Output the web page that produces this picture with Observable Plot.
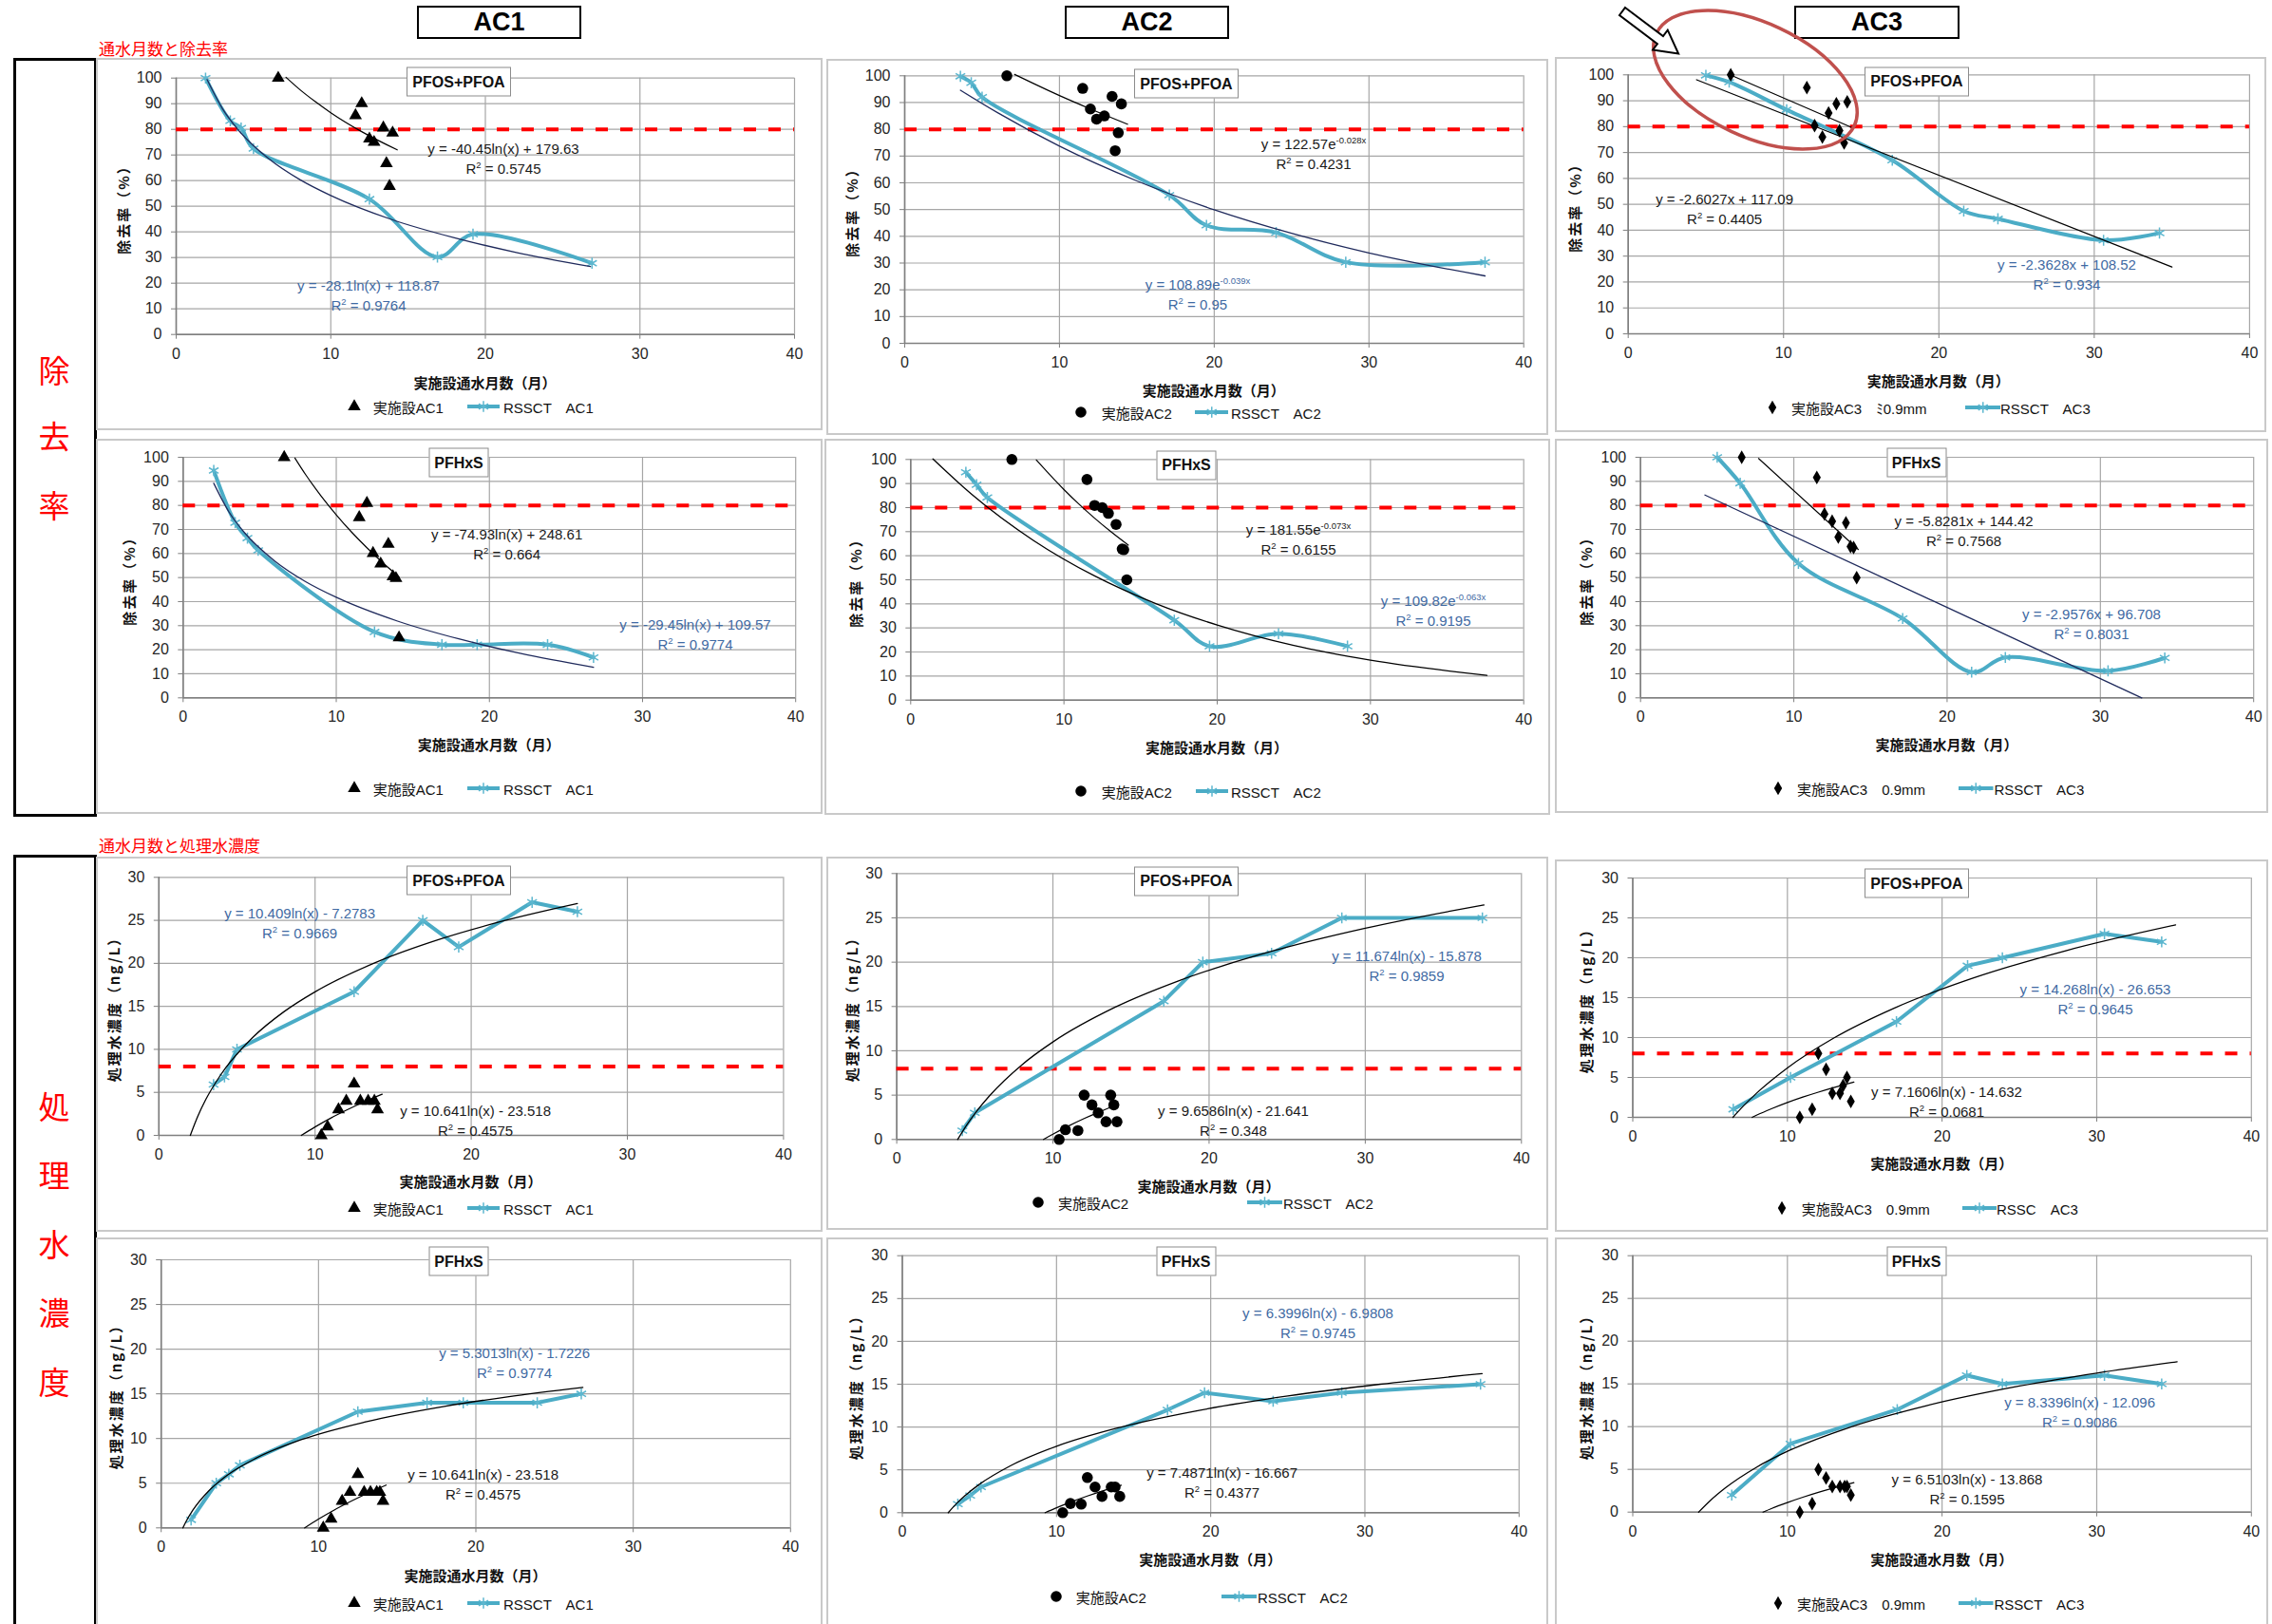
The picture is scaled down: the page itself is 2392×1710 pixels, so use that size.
<!DOCTYPE html>
<html lang="ja">
<head>
<meta charset="utf-8">
<title>通水月数と除去率・処理水濃度</title>
<script src="https://cdn.jsdelivr.net/npm/d3@7"></script>
<script src="https://cdn.jsdelivr.net/npm/@observablehq/plot@0.6"></script>
<style>
  html, body { margin:0; padding:0; background:#fff; }
  #page { position:relative; width:2392px; height:1710px; overflow:hidden; background:#fff;
          font-family:"Liberation Sans", Arial, "Noto Sans CJK JP", sans-serif; color:#222; }
  .panel { position:absolute; box-sizing:border-box; border:2px solid #c9c9c9; }
  .plot { position:absolute; }
  .plot svg { overflow:visible; display:block; }
  .title { position:absolute; box-sizing:border-box; border:1.5px solid #8c8c8c; background:#fff;
           font-weight:bold; font-size:16px; display:flex; align-items:center; justify-content:center;
           transform:translate(-50%,-50%); height:31px; color:#111; }
  .eq { position:absolute; transform:translateX(-50%); text-align:center; font-size:15px; line-height:21px; white-space:nowrap; }
  .eq sup { font-size:9.5px; vertical-align:6px; line-height:0; }
  .xlab { position:absolute; transform:translate(-50%,-50%); font-family:"Noto Sans CJK JP", sans-serif;
          font-weight:bold; font-size:15px; white-space:nowrap; color:#111; }
  .ylab { position:absolute; transform:translate(-50%,-50%) rotate(-90deg); font-family:"Noto Sans CJK JP", sans-serif;
          font-weight:bold; font-size:15px; white-space:nowrap; letter-spacing:2px; color:#111; }
  .legtxt { position:absolute; transform:translateY(-50%); font-size:15px; white-space:nowrap; color:#111;
            font-family:"Liberation Sans", Arial, "Noto Sans CJK JP", sans-serif; }
  .hdr { position:absolute; box-sizing:border-box; border:2.5px solid #000; font-family:"Liberation Sans", Arial, sans-serif;
         font-weight:bold; font-size:27px; display:flex; align-items:center; justify-content:center; color:#000; }
  .sect { position:absolute; color:#ff0000; font-family:"Noto Sans CJK JP", sans-serif; font-size:17px; white-space:nowrap; transform:translateY(-50%); }
  .side { position:absolute; box-sizing:border-box; border:3px solid #000; }
  .sidechar { position:absolute; color:#ff0000; font-family:"Noto Sans CJK JP", sans-serif; font-size:33px; transform:translate(-50%,-50%); }
</style>
</head>
<body>
<div id="page"></div>
<script>
// ---------- axis ticks & targets ----------
const xTicks = [0, 10, 20, 30, 40];
const removalTicks = [0, 10, 20, 30, 40, 50, 60, 70, 80, 90, 100];
const concTicks = [0, 5, 10, 15, 20, 25, 30];
const removalTarget = [80];
const concTarget = [8];

// ---------- 除去率 PFOS+PFOA ----------
const ac1PfosRemovalRssct = [[1.9,100],[3.5,83.3],[4.2,80.5],[5.0,72.5],[12.5,52.8],[16.9,30.2],[19.2,39.1],[26.9,27.8]];
const ac1PfosRemovalPlant = [[6.6,100],[11.6,85.4],[12.0,90.1],[12.5,76.3],[12.8,75.0],[13.4,80.6],[13.6,66.7],[13.8,57.8],[14.0,78.6]];
const ac1PfosRemovalRssctTrend = [[2,99.4],[3,88.0],[4,79.9],[6,68.5],[8,60.4],[10,54.2],[14,44.7],[18,37.7],[22,32.0],[26.8,26.5]];
const ac1PfosRemovalPlantTrend = [[7.1,100.3],[8,95.5],[9,90.8],[10,86.5],[12,79.1],[14.3,72.0]];

const ac2PfosRemovalRssct = [[3.6,99.8],[4.3,97.4],[5.0,92.0],[17.1,55.4],[19.5,44.1],[24.0,41.4],[28.5,30.3],[37.5,30.3]];
const ac2PfosRemovalPlant = [[6.6,100],[11.5,95.3],[12.0,87.6],[12.4,83.8],[12.9,85.0],[13.4,92.3],[13.6,72.0],[13.8,78.7],[14.0,89.5]];
const ac2PfosRemovalRssctTrend = [[3.6,94.6],[6,86.2],[10,73.7],[15,60.7],[20,49.9],[25,41.1],[30,33.8],[37.5,25.2]];
const ac2PfosRemovalPlantTrend = [[7.1,100.5],[10,92.6],[12,87.6],[14.4,81.9]];

const ac3PfosRemovalRssct = [[5.0,99.8],[6.5,97.2],[10.2,86.5],[17.0,67.0],[21.6,47.4],[23.8,44.4],[30.6,36.1],[34.2,38.9]];
const ac3PfosRemovalPlant = [[6.6,100],[11.5,95.1],[12.0,80.4],[12.5,76.0],[12.9,85.3],[13.4,88.8],[13.6,78.5],[13.9,73.7],[14.1,89.6]];
const ac3PfosRemovalRssctTrend = [[4.4,98.1],[35,25.8]];
const ac3PfosRemovalPlantTrend = [[6.8,99.4],[14.5,79.4]];

// ---------- 除去率 PFHxS ----------
const ac1PfhxsRemovalRssct = [[2.0,94.5],[3.4,72.8],[4.2,66.4],[4.9,61.3],[12.5,27.4],[16.9,22.1],[19.2,22.1],[23.8,22.1],[26.8,16.8]];
const ac1PfhxsRemovalPlant = [[6.6,100],[11.5,75.0],[12.0,80.9],[12.4,60.1],[12.9,55.7],[13.4,63.9],[13.7,50.4],[13.9,49.7],[14.1,25.0]];
const ac1PfhxsRemovalRssctTrend = [[2,89.2],[3,77.2],[4,68.7],[6,56.8],[8,48.3],[10,41.8],[14,31.9],[18,24.5],[22,18.5],[26.8,12.7]];
const ac1PfhxsRemovalPlantTrend = [[7.3,99.7],[8,92.8],[9,84.0],[10,76.1],[11,68.9],[12,62.4],[13,56.4],[14.1,50.3]];

const ac2PfhxsRemovalRssct = [[3.6,94.7],[4.3,89.5],[5.0,84.2],[17.2,33.2],[19.5,22.4],[24.0,27.6],[28.5,22.4]];
const ac2PfhxsRemovalPlant = [[6.6,100],[11.5,91.7],[12.0,80.9],[12.5,80.0],[12.9,77.6],[13.4,73.0],[13.8,62.8],[13.9,62.5],[14.1,50.0]];
const ac2PfhxsRemovalRssctTrend = [[1.45,100.2],[4,85.4],[8,66.4],[12,51.6],[16,40.1],[20,31.2],[25,22.7],[30,16.6],[37.6,10.3]];
const ac2PfhxsRemovalPlantTrend = [[8.2,99.8],[10,87.5],[11,81.3],[12,75.6],[13,70.3],[14.2,64.4]];

const ac3PfhxsRemovalRssct = [[5.0,100],[6.5,89.2],[10.3,55.9],[17.1,33.0],[21.6,10.7],[23.8,16.8],[30.5,11.2],[34.2,16.6]];
const ac3PfhxsRemovalPlant = [[6.6,100],[11.5,91.6],[12.0,76.4],[12.5,73.4],[12.9,66.8],[13.4,72.8],[13.7,62.9],[13.9,62.5],[14.1,50.0]];
const ac3PfhxsRemovalRssctTrend = [[4.2,84.3],[32.7,0]];
const ac3PfhxsRemovalPlantTrend = [[7.7,99.5],[14.2,61.7]];

// ---------- 処理水濃度 PFOS+PFOA ----------
const ac1PfosConcRssct = [[3.5,5.9],[4.2,6.8],[5.0,10.0],[12.5,16.7],[16.9,25.0],[19.2,21.9],[23.9,27.1],[26.8,26.0]];
const ac1PfosConcPlant = [[10.4,0],[10.8,1],[11.5,3],[12.0,4],[12.5,6],[12.9,4],[13.4,4],[13.8,4],[14.0,3]];
const ac1PfosConcRssctTrend = [[2.01,0],[2.5,2.26],[3,4.16],[4,7.15],[6,11.37],[8,14.37],[10,16.69],[14,20.19],[18,22.81],[22,24.9],[26.8,26.95]];
const ac1PfosConcPlantTrend = [[9.12,0],[10,0.98],[11,2.0],[12,2.92],[13,3.78],[14.3,4.79]];

const ac2PfosConcRssct = [[4.2,1.0],[5.0,3.0],[17.1,15.6],[19.6,20.0],[24.0,21.0],[28.5,25.0],[37.5,25.0]];
const ac2PfosConcPlant = [[10.4,0],[10.8,1.1],[11.6,1.0],[12.0,5.0],[12.5,3.9],[12.9,3.0],[13.4,2.0],[13.7,5.0],[13.9,3.9],[14.1,2.0]];
const ac2PfosConcRssctTrend = [[3.9,0],[4.5,1.68],[5,2.91],[6,5.04],[8,8.4],[10,11.0],[14,14.93],[18,17.86],[24,21.22],[30,23.83],[37.6,26.46]];
const ac2PfosConcPlantTrend = [[9.4,0],[10,0.6],[11,1.52],[12,2.36],[13,3.13],[14.1,3.92]];

const ac3PfosConcRssct = [[6.5,1],[10.2,5],[17.05,12],[21.65,19],[23.9,20],[30.5,23],[34.2,22]];
const ac3PfosConcPlant = [[10.8,0],[11.6,1],[12.0,8],[12.5,6],[12.9,3],[13.4,3],[13.6,4],[13.85,5],[14.1,2]];
const ac3PfosConcRssctTrend = [[6.48,0],[7,1.11],[8,3.02],[10,6.2],[13,9.94],[17,13.77],[22,17.45],[28,20.89],[35.1,24.12]];
const ac3PfosConcPlantTrend = [[7.72,0],[8,0.26],[9,1.1],[10,1.86],[11,2.54],[12,3.16],[14.3,4.42]];

// ---------- 処理水濃度 PFHxS ----------
const ac1PfhxsConcRssct = [[1.9,0.9],[3.5,5],[4.3,6],[5.0,7],[12.5,13],[16.9,14],[19.2,14],[23.9,14],[26.7,15]];
const ac1PfhxsConcPlant = [[10.3,0],[10.8,1],[11.5,3],[12.0,4],[12.5,6],[12.9,4],[13.3,4],[13.7,4],[13.9,4],[14.1,3]];
const ac1PfhxsConcRssctTrend = [[1.38,0],[1.6,0.77],[2,1.95],[3,4.1],[4,5.63],[6,7.78],[9,9.93],[13,11.87],[18,13.6],[22,14.66],[26.8,15.71]];
const ac1PfhxsConcPlantTrend = [[9.12,0],[10,0.98],[11,2.0],[12,2.92],[13,3.78],[14.3,4.79]];

const ac2PfhxsConcRssct = [[3.6,1],[4.4,2],[5.1,3],[17.2,12],[19.6,14],[24.05,13],[28.5,14],[37.5,15]];
const ac2PfhxsConcPlant = [[10.4,0],[10.9,1.07],[11.6,1],[12.0,4.1],[12.5,3],[12.95,1.9],[13.55,3],[13.8,3],[14.1,1.9]];
const ac2PfhxsConcRssctTrend = [[2.98,0],[3.5,1.04],[4,1.89],[5,3.32],[7,5.47],[10,7.76],[14,9.91],[19,11.86],[25,13.62],[31,15.0],[37.6,16.23]];
const ac2PfhxsConcPlantTrend = [[9.26,0],[10,0.57],[11,1.29],[12,1.94],[13,2.54],[14.2,3.2]];

const ac3PfhxsConcRssct = [[6.4,2],[10.2,8],[17.1,12],[21.6,16],[23.9,15],[30.5,16],[34.2,15]];
const ac3PfhxsConcPlant = [[10.8,0],[11.6,1],[12.0,5],[12.5,4],[12.9,3],[13.4,3],[13.7,3],[13.85,3],[14.1,2]];
const ac3PfhxsConcRssctTrend = [[4.26,0],[5,1.33],[6,2.85],[8,5.25],[10,7.11],[14,9.91],[19,12.46],[25,14.75],[30,16.27],[35.2,17.6]];
const ac3PfhxsConcPlantTrend = [[8.42,0],[9,0.44],[10,1.12],[11,1.74],[12,2.31],[14.3,3.45]];

// ---------- texts ----------
const columnHeaders = ["AC1", "AC2", "AC3"];
const sectionTitles = ["通水月数と除去率", "通水月数と処理水濃度"];
const sideTitles = ["除去率", "処理水濃度"];
const xLabel = "実施設通水月数（月）";
const yLabelRemoval = "除去率（%）";
const yLabelConc = "処理水濃度（ng/L）";

// ---------- styling ----------
const CYAN = "#4bacc6", NAVY = "#1f2a5c", BLACK = "#000", RED = "#ff0000";
const EQBLUE = "#3f6aa3", EQBLACK = "#1a1a1a";
const symSize = {triangle: 5, circle: 5.8, diamond: 4.4};
const symType = {triangle: d3.symbolTriangle, circle: d3.symbolCircle, diamond: d3.symbolDiamond};

// ---------- panel layout (page pixels) ----------
const panels = [
  {box:[101,61,866,453], frame:[185,81.7,836,351.7], kind:"removal", target:true, smooth:true, symbol:"triangle",
   rssct:ac1PfosRemovalRssct, plant:ac1PfosRemovalPlant, rssctTrend:ac1PfosRemovalRssctTrend, plantTrend:ac1PfosRemovalPlantTrend, trendColor:NAVY,
   title:["PFOS+PFOA",483,86,110], ylabX:128.5, xlabY:401.7,
   eqs:[{x:530,y:156,c:EQBLACK,t:["y = -40.45ln(x) + 179.63","R<sup>2</sup> = 0.5745"]},{x:388,y:300,c:EQBLUE,t:["y = -28.1ln(x) + 118.87","R<sup>2</sup> = 0.9764"]}],
   legend:[372.6,392.7,492,526,530,428], leg:["実施設AC1","RSSCT　AC1"]},
  {box:[870,62,1630,458], frame:[952,79.3,1603.7,361], kind:"removal", target:true, smooth:true, symbol:"circle",
   rssct:ac2PfosRemovalRssct, plant:ac2PfosRemovalPlant, rssctTrend:ac2PfosRemovalRssctTrend, plantTrend:ac2PfosRemovalPlantTrend, trendColor:NAVY,
   title:["PFOS+PFOA",1249,88,110], ylabX:895.5, xlabY:410,
   eqs:[{x:1383,y:151,c:EQBLACK,t:["y = 122.57e<sup>-0.028x</sup>","R<sup>2</sup> = 0.4231"]},{x:1261,y:299,c:EQBLUE,t:["y = 108.89e<sup>-0.039x</sup>","R<sup>2</sup> = 0.95"]}],
   legend:[1137.6,1159.7,1257.5,1293,1296,434], leg:["実施設AC2","RSSCT　AC2"]},
  {box:[1637,60,2386,455], frame:[1713.7,78.3,2367.9,351], kind:"removal", target:true, smooth:true, symbol:"diamond",
   rssct:ac3PfosRemovalRssct, plant:ac3PfosRemovalPlant, rssctTrend:ac3PfosRemovalRssctTrend, plantTrend:ac3PfosRemovalPlantTrend, trendColor:BLACK,
   title:["PFOS+PFOA",2018,85.5,110], ylabX:1656.7, xlabY:400,
   eqs:[{x:1815.6,y:209,c:EQBLACK,t:["y = -2.6027x + 117.09","R<sup>2</sup> = 0.4405"]},{x:2176,y:278,c:EQBLUE,t:["y = -2.3628x + 108.52","R<sup>2</sup> = 0.934"]}],
   legend:[1865.8,1886,2068.5,2106,2106,429], leg:["実施設AC3　ﾐ0.9mm","RSSCT　AC3"]},
  {box:[101,462,866,857], frame:[192.3,481,837.2,734.3], kind:"removal", target:true, smooth:true, symbol:"triangle",
   rssct:ac1PfhxsRemovalRssct, plant:ac1PfhxsRemovalPlant, rssctTrend:ac1PfhxsRemovalRssctTrend, plantTrend:ac1PfhxsRemovalPlantTrend, trendColor:NAVY,
   title:["PFHxS",483,487,63], ylabX:134.9, xlabY:783.3,
   eqs:[{x:533.6,y:562,c:EQBLACK,t:["y = -74.93ln(x) + 248.61","R<sup>2</sup> = 0.664"]},{x:732,y:657,c:EQBLUE,t:["y = -29.45ln(x) + 109.57","R<sup>2</sup> = 0.9774"]}],
   legend:[372.6,392.7,492,526,530,830], leg:["実施設AC1","RSSCT　AC1"]},
  {box:[868,462,1632,858], frame:[958.3,483.3,1603.7,736.7], kind:"removal", target:true, smooth:true, symbol:"circle",
   rssct:ac2PfhxsRemovalRssct, plant:ac2PfhxsRemovalPlant, rssctTrend:ac2PfhxsRemovalRssctTrend, plantTrend:ac2PfhxsRemovalPlantTrend, trendColor:BLACK,
   title:["PFHxS",1249,489.5,63], ylabX:900.4, xlabY:786,
   eqs:[{x:1367,y:557,c:EQBLACK,t:["y = 181.55e<sup>-0.073x</sup>","R<sup>2</sup> = 0.6155"]},{x:1509,y:632,c:EQBLUE,t:["y = 109.82e<sup>-0.063x</sup>","R<sup>2</sup> = 0.9195"]}],
   legend:[1137.6,1159.7,1259,1293,1296,833], leg:["実施設AC2","RSSCT　AC2"]},
  {box:[1637,462,2388,856], frame:[1726.7,481,2372.2,734.3], kind:"removal", target:true, smooth:true, symbol:"diamond",
   rssct:ac3PfhxsRemovalRssct, plant:ac3PfhxsRemovalPlant, rssctTrend:ac3PfhxsRemovalRssctTrend, plantTrend:ac3PfhxsRemovalPlantTrend, trendColor:NAVY,
   title:["PFHxS",2017.6,487,63], ylabX:1668.8, xlabY:783,
   eqs:[{x:2067.6,y:548,c:EQBLACK,t:["y = -5.8281x + 144.42","R<sup>2</sup> = 0.7568"]},{x:2202,y:646,c:EQBLUE,t:["y = -2.9576x + 96.708","R<sup>2</sup> = 0.8031"]}],
   legend:[1871.6,1892,2062,2098.5,2099.5,830], leg:["実施設AC3　0.9mm","RSSCT　AC3"]},
  {box:[101,902,866,1297], frame:[166.8,923.3,824.4,1195], kind:"conc", target:true, smooth:false, symbol:"triangle",
   rssct:ac1PfosConcRssct, plant:ac1PfosConcPlant, rssctTrend:ac1PfosConcRssctTrend, plantTrend:ac1PfosConcPlantTrend, trendColor:BLACK,
   title:["PFOS+PFOA",483,927,110], ylabX:118.6, xlabY:1243,
   eqs:[{x:315.6,y:961,c:EQBLUE,t:["y = 10.409ln(x) - 7.2783","R<sup>2</sup> = 0.9669"]},{x:500.6,y:1169,c:EQBLACK,t:["y = 10.641ln(x) - 23.518","R<sup>2</sup> = 0.4575"]}],
   legend:[372.6,392.7,492,526,530,1271.7], leg:["実施設AC1","RSSCT　AC1"]},
  {box:[870,902,1630,1295], frame:[943.6,919.3,1601.3,1199.3], kind:"conc", target:true, smooth:false, symbol:"circle",
   rssct:ac2PfosConcRssct, plant:ac2PfosConcPlant, rssctTrend:ac2PfosConcRssctTrend, plantTrend:ac2PfosConcPlantTrend, trendColor:BLACK,
   title:["PFOS+PFOA",1249,927.5,110], ylabX:895.5, xlabY:1247.7,
   eqs:[{x:1481,y:1006,c:EQBLUE,t:["y = 11.674ln(x) - 15.878","R<sup>2</sup> = 0.9859"]},{x:1298.5,y:1169,c:EQBLACK,t:["y = 9.6586ln(x) - 21.641","R<sup>2</sup> = 0.348"]}],
   legend:[1093.4,1114,1313,1350,1351,1265.7], leg:["実施設AC2","RSSCT　AC2"]},
  {box:[1637,905,2388,1297], frame:[1718.5,924,2369.8,1176], kind:"conc", target:true, smooth:false, symbol:"diamond",
   rssct:ac3PfosConcRssct, plant:ac3PfosConcPlant, rssctTrend:ac3PfosConcRssctTrend, plantTrend:ac3PfosConcPlantTrend, trendColor:BLACK,
   title:["PFOS+PFOA",2018,930,110], ylabX:1668.8, xlabY:1224,
   eqs:[{x:2206,y:1041,c:EQBLUE,t:["y = 14.268ln(x) - 26.653","R<sup>2</sup> = 0.9645"]},{x:2049.5,y:1149,c:EQBLACK,t:["y = 7.1606ln(x) - 14.632","R<sup>2</sup> = 0.0681"]}],
   legend:[1876.4,1896.7,2066,2102,2102,1271.7], leg:["実施設AC3　0.9mm","RSSC　AC3"]},
  {box:[101,1303,866,1712], frame:[169.2,1326,831.8,1608.3], kind:"conc", target:false, smooth:false, symbol:"triangle",
   rssct:ac1PfhxsConcRssct, plant:ac1PfhxsConcPlant, rssctTrend:ac1PfhxsConcRssctTrend, plantTrend:ac1PfhxsConcPlantTrend, trendColor:BLACK,
   title:["PFHxS",483,1328,63], ylabX:121, xlabY:1657.7,
   eqs:[{x:541.6,y:1424,c:EQBLUE,t:["y = 5.3013ln(x) - 1.7226","R<sup>2</sup> = 0.9774"]},{x:508.6,y:1552,c:EQBLACK,t:["y = 10.641ln(x) - 23.518","R<sup>2</sup> = 0.4575"]}],
   legend:[372.6,392.7,492,526,530,1687.7], leg:["実施設AC1","RSSCT　AC1"]},
  {box:[870,1303,1630,1712], frame:[949.5,1321.7,1598.8,1592.3], kind:"conc", target:false, smooth:false, symbol:"circle",
   rssct:ac2PfhxsConcRssct, plant:ac2PfhxsConcPlant, rssctTrend:ac2PfhxsConcRssctTrend, plantTrend:ac2PfhxsConcPlantTrend, trendColor:BLACK,
   title:["PFHxS",1248.6,1328,63], ylabX:900.4, xlabY:1640.7,
   eqs:[{x:1387.5,y:1382,c:EQBLUE,t:["y = 6.3996ln(x) - 6.9808","R<sup>2</sup> = 0.9745"]},{x:1286.6,y:1550,c:EQBLACK,t:["y = 7.4871ln(x) - 16.667","R<sup>2</sup> = 0.4377"]}],
   legend:[1111.6,1132.7,1286,1323,1324,1681], leg:["実施設AC2","RSSCT　AC2"]},
  {box:[1637,1303,2388,1712], frame:[1718.5,1321.7,2369.8,1591.7], kind:"conc", target:false, smooth:false, symbol:"diamond",
   rssct:ac3PfhxsConcRssct, plant:ac3PfhxsConcPlant, rssctTrend:ac3PfhxsConcRssctTrend, plantTrend:ac3PfhxsConcPlantTrend, trendColor:BLACK,
   title:["PFHxS",2017.6,1328,63], ylabX:1668.8, xlabY:1640.7,
   eqs:[{x:2189.6,y:1476,c:EQBLUE,t:["y = 8.3396ln(x) - 12.096","R<sup>2</sup> = 0.9086"]},{x:2071,y:1557,c:EQBLACK,t:["y = 6.5103ln(x) - 13.868","R<sup>2</sup> = 0.1595"]}],
   legend:[1871.6,1892,2062,2098.5,2099.5,1687.7], leg:["実施設AC3　0.9mm","RSSCT　AC3"]}
];

const page = document.getElementById("page");
function add(cls, style, html) {
  const e = document.createElement("div");
  if (cls) e.className = cls;
  Object.assign(e.style, style);
  if (html != null) e.innerHTML = html;
  page.appendChild(e);
  return e;
}
const px = d => d[0], py = d => d[1];

function drawPanel(p) {
  const [l, t, r, b] = p.box;
  const [x0, yTop, x1, y0] = p.frame;
  const isRem = p.kind === "removal";
  const yTicks = isRem ? removalTicks : concTicks;
  const yMax = isRem ? 100 : 30;
  const target = p.target ? (isRem ? removalTarget : concTarget) : [];

  add("panel", {left: l + "px", top: t + "px", width: (r - l) + "px", height: (b - t) + "px"});

  const svg = Plot.plot({
    width: r - l, height: b - t,
    marginLeft: x0 - l, marginRight: r - x1, marginTop: yTop - t, marginBottom: b - y0,
    style: {background: "transparent", fontFamily: '"Liberation Sans", Arial, sans-serif', fontSize: "16px", color: "#262626", overflow: "visible"},
    x: {domain: [0, 40]},
    y: {domain: [0, yMax]},
    marks: [
      Plot.gridX({ticks: xTicks, stroke: "#a6a6a6", strokeOpacity: 1, strokeWidth: 1.2}),
      Plot.gridY({ticks: yTicks, stroke: "#a6a6a6", strokeOpacity: 1, strokeWidth: 1.2}),
      Plot.axisX({ticks: xTicks, tickSize: 5, tickPadding: 9, stroke: "#7f7f7f", fill: "#262626", fontSize: 16, label: null}),
      Plot.axisY({ticks: yTicks, tickSize: 5, tickPadding: 10, stroke: "#7f7f7f", fill: "#262626", fontSize: 16, label: null}),
      Plot.ruleX([0], {stroke: "#7f7f7f", strokeWidth: 1.6}),
      Plot.ruleY([0], {stroke: "#7f7f7f", strokeWidth: 1.6}),
      Plot.ruleY(target, {stroke: RED, strokeWidth: 4, strokeDasharray: "13,13"}),
      Plot.line(p.rssct, {x: px, y: py, curve: p.smooth ? "catmull-rom" : "linear", stroke: CYAN, strokeWidth: 4, strokeLinejoin: "round"}),
      Plot.dot(p.rssct, {x: px, y: py, symbol: "asterisk", r: 5.5, stroke: "#5db7cf", strokeWidth: 1.5}),
      Plot.line(p.rssctTrend, {x: px, y: py, curve: "monotone-x", stroke: p.trendColor, strokeWidth: 1.3}),
      Plot.line(p.plantTrend, {x: px, y: py, curve: "monotone-x", stroke: BLACK, strokeWidth: 1.2}),
      Plot.dot(p.plant, {x: px, y: py, symbol: p.symbol, r: symSize[p.symbol], fill: "#000", stroke: "none"})
    ]
  });
  const holder = add("plot", {left: l + "px", top: t + "px"});
  holder.appendChild(svg);

  const [tt, tx, ty, tw] = p.title;
  add("title", {left: tx + "px", top: ty + "px", width: tw + "px"}, tt);

  add("xlab", {left: ((x0 + x1) / 2) + "px", top: p.xlabY + "px"}, xLabel);
  add("ylab", {left: p.ylabX + "px", top: ((yTop + y0) / 2) + "px"}, isRem ? yLabelRemoval : yLabelConc);

  for (const e of p.eqs) {
    add("eq", {left: e.x + "px", top: (e.y - 10.5) + "px", color: e.c}, e.t.join("<br>"));
  }

  const [mx, t1, s1, s2, t2, ly] = p.legend;
  const rr = symSize[p.symbol];
  const mpath = d3.symbol().type(symType[p.symbol]).size(Math.PI * rr * rr)();
  add(null, {position: "absolute", left: (mx - 10) + "px", top: (ly - 10) + "px", width: "20px", height: "20px"},
    `<svg width="20" height="20"><path d="${mpath}" transform="translate(10,10)" fill="#000"/></svg>`);
  add("legtxt", {left: t1 + "px", top: ly + "px"}, p.leg[0]);
  const sw = s2 - s1;
  const apath = d3.symbol().type(d3.symbolAsterisk).size(Math.PI * 5.5 * 5.5)();
  add(null, {position: "absolute", left: s1 + "px", top: (ly - 10) + "px", width: sw + "px", height: "20px"},
    `<svg width="${sw}" height="20"><line x1="0" x2="${sw}" y1="10" y2="10" stroke="${CYAN}" stroke-width="4"/><path d="${apath}" transform="translate(${sw / 2},10)" fill="none" stroke="#5db7cf" stroke-width="1.5"/></svg>`);
  add("legtxt", {left: t2 + "px", top: ly + "px"}, p.leg[1]);
}

// ---------- page furniture ----------
const headerBoxes = [[439, 6, 173, 35], [1121, 6, 173, 35], [1889, 6, 174, 35]];
columnHeaders.forEach((h, i) => {
  const [x, y, w, hgt] = headerBoxes[i];
  add("hdr", {left: x + "px", top: y + "px", width: w + "px", height: hgt + "px"}, h);
});
add("sect", {left: "104px", top: "50px"}, sectionTitles[0]);
add("sect", {left: "104px", top: "889px"}, sectionTitles[1]);
add("side", {left: "14px", top: "61px", width: "88px", height: "799px"});
add("side", {left: "14px", top: "900px", width: "88px", height: "820px"});
const sideCharY = [[389, 458, 531], [1164, 1236, 1309, 1381, 1454]];
sideTitles.forEach((s, i) => {
  [...s].forEach((ch, j) => add("sidechar", {left: "57px", top: sideCharY[i][j] + "px"}, ch));
});

panels.forEach(drawPanel);

// ---------- annotation: arrow and red ellipse on AC3 ----------
add(null, {position: "absolute", left: "0px", top: "0px", width: "2392px", height: "200px", pointerEvents: "none"},
  `<svg width="2392" height="200">
     <ellipse cx="1848" cy="84" rx="115" ry="60" transform="rotate(25 1848 84)" fill="none" stroke="#c0504d" stroke-width="3.5"/>
     <g transform="translate(1708,12) rotate(37)">
       <polygon points="0,-5 50,-5 50,-13 74,0 50,13 50,5 0,5" fill="#fff" stroke="#000" stroke-width="2" stroke-linejoin="miter"/>
     </g>
   </svg>`);
</script>
</body>
</html>
